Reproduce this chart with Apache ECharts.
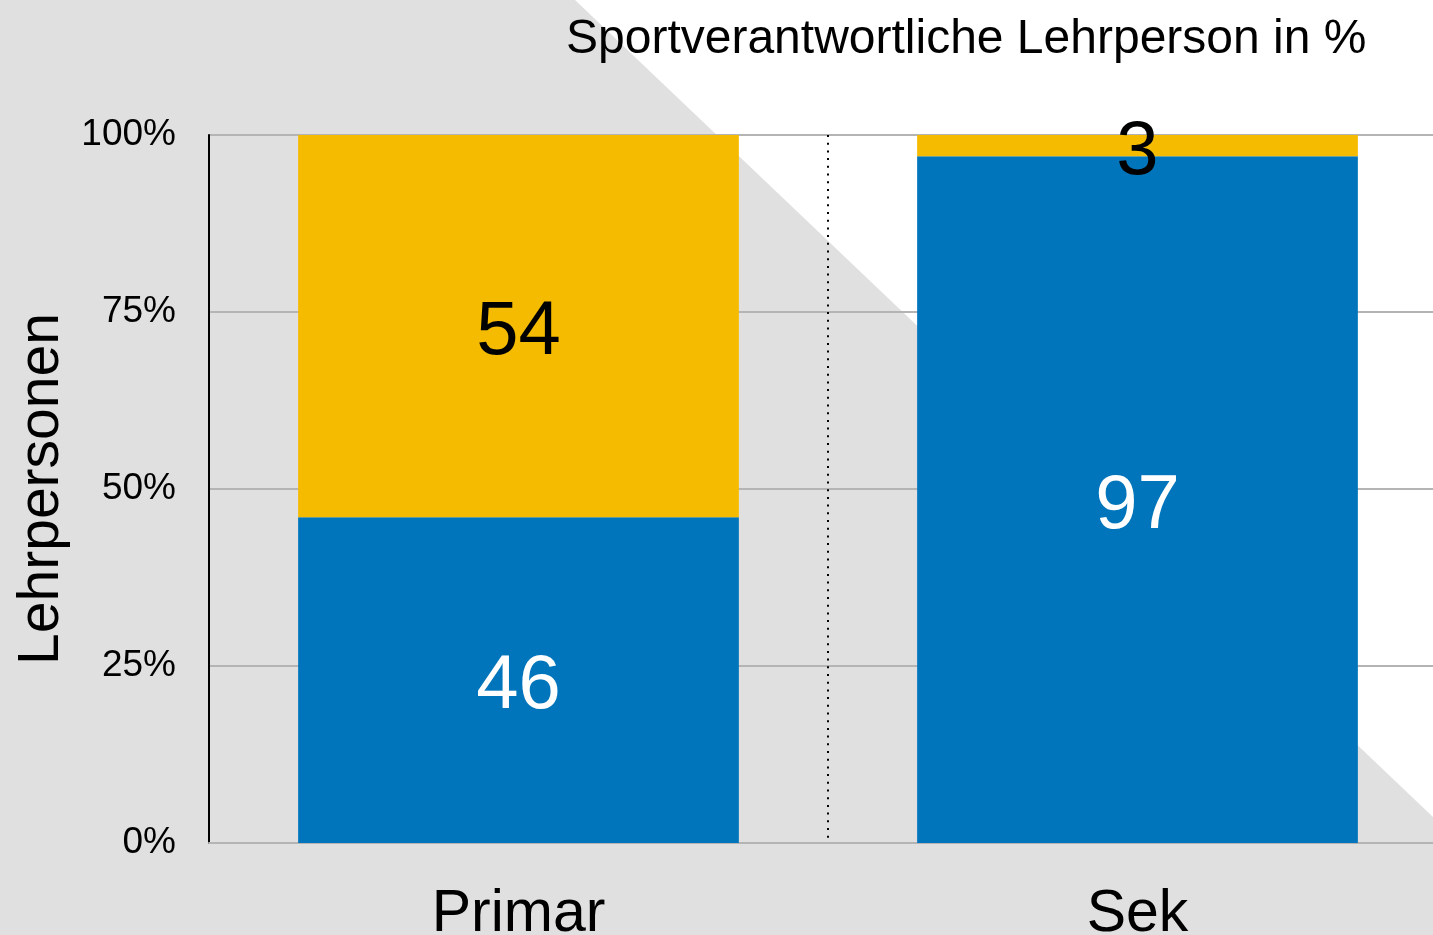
<!DOCTYPE html>
<html>
<head>
<meta charset="utf-8">
<script src="https://cdn.jsdelivr.net/npm/echarts@6/dist/echarts.min.js"></script>
<style>html,body{margin:0;padding:0;background:#e0e0e0;}#c{width:1433px;height:935px;}</style>
</head>
<body>
<div id="c"></div>
<script>
const categories = ['Primar', 'Sek'];
const blueValues = [46, 97];
const yellowValues = [54, 3];
const yTicks = [0, 25, 50, 75, 100];
const titleText = 'Sportverantwortliche Lehrperson in %';
const yAxisName = 'Lehrpersonen';

const font = '"Liberation Sans", Arial, sans-serif';
const chart = echarts.init(document.getElementById('c'), null, {renderer: 'canvas'});
chart.setOption({
  animation: false,
  backgroundColor: '#e0e0e0',
  textStyle: {fontFamily: font},
  graphic: {elements: [{
    type: 'polygon', z: -100, silent: true,
    shape: {points: [[575, 0], [1433, 0], [1433, 817]]},
    style: {fill: '#ffffff'}
  }]},
  title: {
    text: titleText, left: 561, top: 11,
    textStyle: {fontFamily: font, fontSize: 48, fontWeight: 'normal', color: '#000'}
  },
  grid: {left: 209, top: 135, width: 1238, height: 708, containLabel: false, outerBoundsMode: 'none'},
  xAxis: {
    type: 'category', data: categories,
    axisLine: {show: true, lineStyle: {color: '#b4b4b4', width: 2}},
    axisTick: {show: false},
    axisLabel: {fontFamily: font, fontSize: 59, color: '#000', margin: 42},
    splitLine: {show: true, lineStyle: {color: '#000', width: 2, type: [2, 5.7]}}
  },
  yAxis: {
    type: 'value', min: yTicks[0], max: yTicks[yTicks.length - 1], interval: 25,
    name: yAxisName, nameLocation: 'middle', nameGap: 138, nameRotate: 90,
    nameTextStyle: {fontFamily: font, fontSize: 57, color: '#000'},
    axisLine: {show: true, lineStyle: {color: '#000', width: 2}},
    axisTick: {show: false},
    axisLabel: {fontFamily: font, fontSize: 37, color: '#000', margin: 33, formatter: '{value}%'},
    splitLine: {show: true, lineStyle: {color: '#b4b4b4', width: 2}}
  },
  series: [
    {
      type: 'bar', stack: 'a', data: blueValues, barWidth: '71.2%',
      itemStyle: {color: '#0075bb'},
      label: {show: true, position: 'inside', offset: [0, 7], fontFamily: font, fontSize: 76, color: '#fff'}
    },
    {
      type: 'bar', stack: 'a', data: yellowValues, barWidth: '71.2%',
      itemStyle: {color: '#f5bb00'},
      label: {show: true, position: 'inside', offset: [0, 7], fontFamily: font, fontSize: 76, color: '#000'}
    }
  ]
});
</script>
</body>
</html>
